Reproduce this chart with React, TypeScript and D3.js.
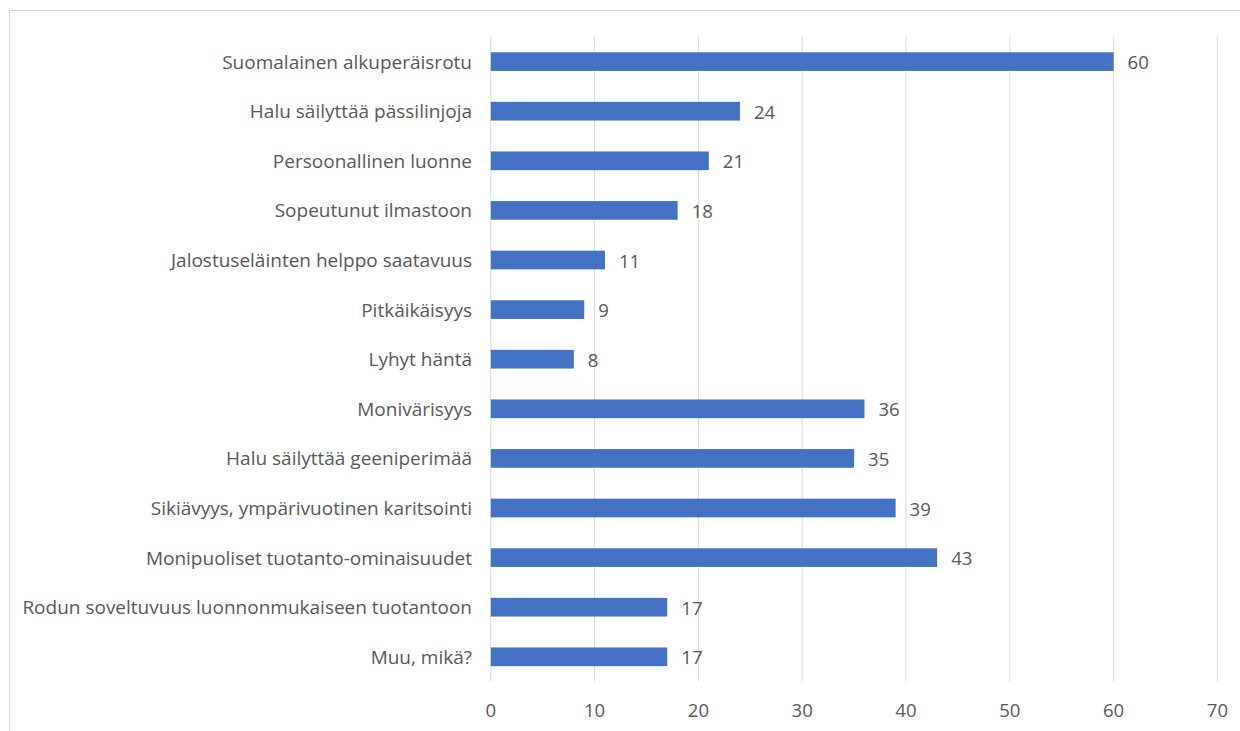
import React from "react";
import * as d3 from "d3";

const categories = [
  "Suomalainen alkuperäisrotu",
  "Halu säilyttää pässilinjoja",
  "Persoonallinen luonne",
  "Sopeutunut ilmastoon",
  "Jalostuseläinten helppo saatavuus",
  "Pitkäikäisyys",
  "Lyhyt häntä",
  "Monivärisyys",
  "Halu säilyttää geeniperimää",
  "Sikiävyys, ympärivuotinen karitsointi",
  "Monipuoliset tuotanto-ominaisuudet",
  "Rodun soveltuvuus luonnonmukaiseen tuotantoon",
  "Muu, mikä?",
];
const values = [60, 24, 21, 18, 11, 9, 8, 36, 35, 39, 43, 17, 17];
const ticks = [0, 10, 20, 30, 40, 50, 60, 70];

export default function App() {
  const W = 1240, H = 731;
  const x0 = 490.8, x1 = 1217.4;
  const yTop = 36.8, yBot = 681.6;
  const x = d3.scaleLinear().domain([0, 70]).range([x0, x1]);
  const y = d3.scaleBand().domain(categories).range([yTop, yBot]).paddingInner(0.623).paddingOuter(0.3115);
  const font = "'Open Sans', 'Noto Sans', sans-serif";
  const textColor = "#595959";
  const fs = 19;
  return (
    <svg width={W} height={H} style={{ position: "absolute", left: 0, top: 0, background: "#fff" }}>
      <rect x={0} y={0} width={W} height={H} fill="#fff" />
      <line x1={9.5} x2={W} y1={10.5} y2={10.5} stroke="#d9d9d9" strokeWidth={1} />
      <line x1={9.5} x2={9.5} y1={10.5} y2={H} stroke="#d9d9d9" strokeWidth={1} />
      {ticks.map((t) => (
        <g key={t}>
          <line x1={x(t)} x2={x(t)} y1={yTop} y2={yBot} stroke="#d9d9d9" strokeWidth={1} />
          <text x={x(t)} y={709} textAnchor="middle" dominantBaseline="central" fontFamily={font} fontSize={18.6} fill={textColor}>
            {t}
          </text>
        </g>
      ))}
      {categories.map((c, i) => {
        const yy = y(c)!;
        const bw = y.bandwidth();
        return (
          <g key={c}>
            <rect x={x(0)} y={yy} width={x(values[i]) - x(0)} height={bw} fill="#4472c4" />
            <text x={472} y={yy + bw / 2} textAnchor="end" dominantBaseline="central" fontFamily={font} fontSize={fs} fill={textColor}>
              {c}
            </text>
            <text x={x(values[i]) + 14} y={yy + bw / 2} textAnchor="start" dominantBaseline="central" fontFamily={font} fontSize={18.6} fill={textColor}>
              {values[i]}
            </text>
          </g>
        );
      })}
    </svg>
  );
}
